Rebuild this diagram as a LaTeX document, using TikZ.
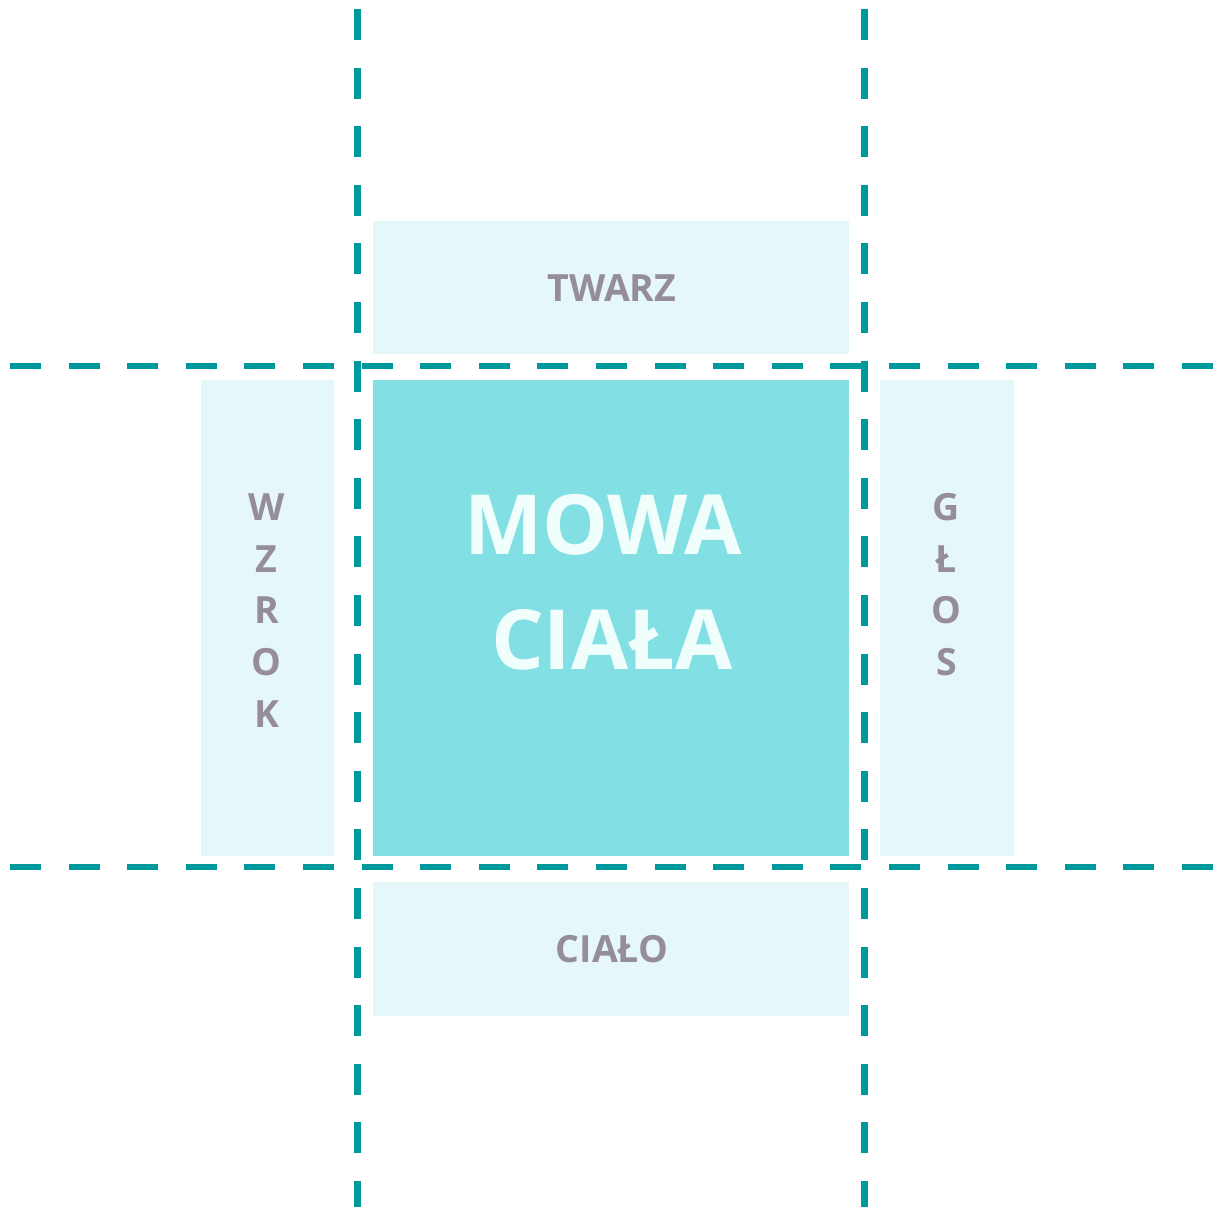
\documentclass[tikz,border=0pt]{standalone}
\usepackage{fontspec}
\setmainfont{Open Sans}
\definecolor{teal1}{RGB}{0,153,155}
\definecolor{core}{RGB}{130,224,229}
\definecolor{pale}{RGB}{230,247,250}
\definecolor{lbl}{RGB}{149,141,155}
\definecolor{coretext}{RGB}{240,255,252}
\tikzset{
  guide/.style={draw=teal1, line width=6.5pt, dash pattern=on 31pt off 27.6pt},
  panel/.style={fill=pale, inner sep=0pt},
  corebox/.style={fill=core, inner sep=0pt},
  smalllbl/.style={text=lbl, font=\fontsize{37.5}{44}\selectfont\bfseries, inner sep=0pt},
  biglbl/.style={text=coretext, font=\fontsize{83}{98}\selectfont\bfseries, inner sep=0pt}
}
\begin{document}
\begin{tikzpicture}[x=1pt,y=-1pt]
\useasboundingbox (0,0) rectangle (1213,1207);
% panels
\node[corebox, minimum width=476pt, minimum height=476pt] (core) at (611,618) {};
\node[panel, minimum width=476pt, minimum height=133pt] (top) at (611,287.5) {};
\node[panel, minimum width=476pt, minimum height=134pt] (bottom) at (611,949) {};
\node[panel, minimum width=133pt, minimum height=476pt] (left) at (267.5,618) {};
\node[panel, minimum width=134pt, minimum height=476pt] (right) at (947,618) {};
% guides
\coordinate (h1a) at (10,366);  \coordinate (h1b) at (1213,366);
\coordinate (h2a) at (10,867);  \coordinate (h2b) at (1213,867);
\coordinate (v1a) at (357.5,9); \coordinate (v1b) at (357.5,1207);
\coordinate (v2a) at (864.5,9); \coordinate (v2b) at (864.5,1207);
\draw[guide] (h1a) -- (h1b);
\draw[guide] (h2a) -- (h2b);
\draw[guide] (v1a) -- (v1b);
\draw[guide] (v2a) -- (v2b);
% labels
\node[smalllbl] (tw) at (612,288.5) {TWARZ};
\node[smalllbl] (ci) at (612,949) {CIAŁO};
\node[biglbl, anchor=base] (mowa) at (603,554) {MOWA};
\node[biglbl, anchor=base] (ciala) at (612,669) {CIAŁA};
\foreach \l/\y [count=\i] in {W/520,Z/572,R/623,O/675,K/727}
  \node[smalllbl, anchor=base] (wz\i) at (266.5,\y) {\l};
\foreach \l/\y [count=\i] in {G/520,Ł/572,O/623,S/675}
  \node[smalllbl, anchor=base] (gl\i) at (946.5,\y) {\l};
\end{tikzpicture}
\end{document}
